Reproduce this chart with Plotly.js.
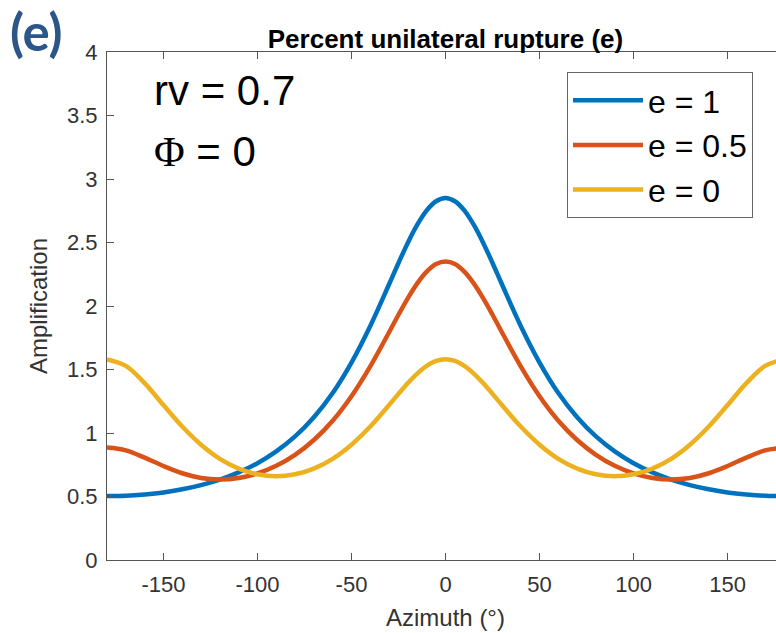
<!DOCTYPE html>
<html>
<head>
<meta charset="utf-8">
<script src="https://cdn.plot.ly/plotly-3.0.1.min.js"></script>
<style>
  html, body { margin: 0; padding: 0; background: #fff; overflow: hidden; }
  #chart { width: 800px; height: 633px; }
</style>
</head>
<body>
<div id="chart"></div>
<script>
// Azimuth in degrees
const azimuth = [-180,-170,-160,-150,-140,-130,-120,-110,-100,-90,-80,-70,-60,-50,-40,
                 -30,-25,-20,-15,-10,-5,0,5,10,15,20,25,30,
                 40,50,60,70,80,90,100,110,120,130,140,150,160,170,180];
// Amplification, e = 1
const ampE1 = [0.503,0.506,0.516,0.532,0.557,0.590,0.633,0.690,0.762,0.855,0.973,1.124,1.315,1.555,1.843,
               2.171,2.339,2.499,2.640,2.753,2.825,2.850,2.825,2.753,2.640,2.499,2.339,2.171,
               1.843,1.555,1.315,1.124,0.973,0.855,0.762,0.690,0.633,0.590,0.557,0.532,0.516,0.506,0.503];
// Amplification, e = 0.5
const ampE05 = [0.885,0.863,0.806,0.740,0.683,0.646,0.634,0.646,0.682,0.742,0.828,0.945,1.097,1.290,1.525,
                1.793,1.931,2.062,2.178,2.270,2.330,2.350,2.330,2.270,2.178,2.062,1.931,1.793,
                1.525,1.290,1.097,0.945,0.828,0.742,0.682,0.646,0.634,0.646,0.683,0.740,0.806,0.863,0.885];
// Amplification, e = 0
const ampE0 = [1.580,1.528,1.393,1.220,1.051,0.908,0.797,0.720,0.675,0.660,0.675,0.720,0.797,0.908,1.051,
               1.220,1.308,1.393,1.468,1.528,1.567,1.580,1.567,1.528,1.468,1.393,1.308,1.220,
               1.051,0.908,0.797,0.720,0.675,0.660,0.675,0.720,0.797,0.908,1.051,1.220,1.393,1.528,1.580];
const seriesNames = ["e = 1", "e = 0.5", "e = 0"];
const xTickVals = [-150,-100,-50,0,50,100,150];
const xTickText = ["-150","-100","-50","0","50","100","150"];
const yTickVals = [0,0.5,1,1.5,2,2.5,3,3.5,4];
const yTickText = ["0","0.5","1","1.5","2","2.5","3","3.5","4"];

const colors = ["#0072BD", "#D95319", "#EDB120"];
const ys = [ampE1, ampE05, ampE0];

const traces = ys.map((y, i) => ({
  x: azimuth, y: y, type: "scatter", mode: "lines", name: seriesNames[i],
  line: { color: colors[i], width: 4.5, shape: "spline", smoothing: 1 }
}));

const axisCommon = {
  showgrid: false, zeroline: false, showline: true, linecolor: "#555", linewidth: 1,
  mirror: "ticks", ticks: "inside", ticklen: 7, tickcolor: "#555", tickwidth: 1,
  tickfont: { family: "Liberation Sans, Arial, sans-serif", size: 22, color: "#333" }
};

const layout = {
  width: 800, height: 633,
  margin: { l: 107, r: 16, t: 52, b: 73 },
  paper_bgcolor: "#fff", plot_bgcolor: "#fff",
  font: { family: "Liberation Sans, Arial, sans-serif", color: "#000" },
  title: {
    text: "<b>Percent unilateral rupture (e)</b>",
    font: { size: 26, color: "#000", family: "Liberation Sans, Arial, sans-serif" },
    x: 0.5, xref: "paper", xanchor: "center", y: 1 - 39/633, yref: "container", yanchor: "middle"
  },
  xaxis: Object.assign({}, axisCommon, {
    range: [-180, 180], tickmode: "array", tickvals: xTickVals, ticktext: xTickText,
    ticklabelstandoff: 5,
    title: { text: "Azimuth (°)", font: { size: 24, color: "#333" }, standoff: 12 }
  }),
  yaxis: Object.assign({}, axisCommon, {
    range: [0, 4], tickmode: "array", tickvals: yTickVals, ticktext: yTickText,
    ticklabelstandoff: 4,
    title: { text: "Amplification", font: { size: 24, color: "#333" }, standoff: 12 }
  }),
  showlegend: true,
  legend: {
    x: (567 - 107) / 677, y: 1 - (72 - 52) / 508, xanchor: "left", yanchor: "top",
    bgcolor: "#fff", bordercolor: "#666", borderwidth: 1,
    font: { size: 32, color: "#000", family: "Liberation Sans, Arial, sans-serif" },
    itemwidth: 70, tracegroupgap: 0
  },
  annotations: [
    { text: "rv = 0.7", xref: "paper", yref: "paper", x: (152 - 107) / 677, y: 1 - (91 - 52) / 508,
      xanchor: "left", yanchor: "middle", showarrow: false,
      font: { size: 42, color: "#000", family: "Liberation Sans, Arial, sans-serif" } },
    { text: '<span style="font-family:Liberation Serif">Φ</span> = 0', xref: "paper", yref: "paper",
      x: (152 - 107) / 677, y: 1 - (151 - 52) / 508,
      xanchor: "left", yanchor: "middle", showarrow: false,
      font: { size: 42, color: "#000", family: "Liberation Sans, Arial, sans-serif" } },
    { text: "<b>(e)</b>", xref: "paper", yref: "paper", x: -99 / 677, y: 1 + (52 - 31) / 508,
      xanchor: "left", yanchor: "middle", showarrow: false,
      font: { size: 51, color: "#2B5687", family: "Lato, Open Sans, sans-serif", weight: 900 } }
  ]
};

Plotly.newPlot("chart", traces, layout, { displayModeBar: false, staticPlot: true });
</script>
</body>
</html>
